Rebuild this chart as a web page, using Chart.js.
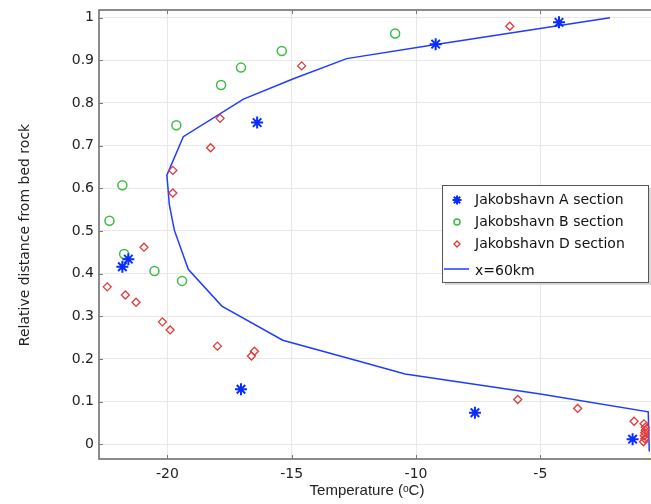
<!DOCTYPE html>
<html>
<head>
<meta charset="utf-8">
<script src="https://cdn.jsdelivr.net/npm/chart.js@4.4.1/dist/chart.umd.min.js"></script>
<style>
  body { margin: 0; background: #fff; }
  canvas { display: block; }
</style>
</head>
<body>
<canvas id="myChart" width="651" height="504"></canvas>
<script>
// model curve x=60km
const lineT = [-2.2, -9.2, -12.79, -14.93, -16.94, -19.36, -20.02, -19.92, -19.72, -19.16, -17.81, -15.36, -12.25, -10.44, -5.0, -0.66, -0.62];
const lineY = [1.0, 0.937, 0.904, 0.857, 0.809, 0.721, 0.631, 0.561, 0.502, 0.410, 0.324, 0.244, 0.194, 0.165, 0.118, 0.076, -0.017];

// Jakobshavn A
const aT = [-4.25, -9.21, -16.39, -21.81, -21.57, -17.04, -7.63, -1.29];
const aY = [0.989, 0.938, 0.754, 0.416, 0.434, 0.129, 0.074, 0.012];

// Jakobshavn B
const bT = [-10.84, -15.40, -17.04, -17.84, -19.64, -21.81, -22.33, -21.74, -20.52, -19.41];
const bY = [0.963, 0.922, 0.883, 0.842, 0.748, 0.607, 0.524, 0.446, 0.406, 0.383];

// Jakobshavn D
const dT = [-6.23, -14.60, -17.88, -18.26, -19.78, -19.78, -20.94, -22.42, -21.69, -21.26, -20.20, -19.89, -17.99, -16.62, -16.50, -5.91, -3.50, -1.23, -0.83, -0.78, -0.78, -0.80, -0.82, -0.80, -0.85];
const dY = [0.980, 0.887, 0.764, 0.695, 0.642, 0.589, 0.462, 0.369, 0.350, 0.333, 0.287, 0.268, 0.230, 0.207, 0.218, 0.105, 0.084, 0.054, 0.048, 0.040, 0.033, 0.027, 0.020, 0.013, 0.006];

const xTicks = [-20, -15, -10, -5];
const yTicks = [0, 0.1, 0.2, 0.3, 0.4, 0.5, 0.6, 0.7, 0.8, 0.9, 1];

const xTitle = 'Temperature (ᵒC)';
const yTitle = 'Relative distance from bed rock';

const pts = (xs, ys) => xs.map((x, i) => ({ x: x, y: ys[i] }));

const blue = '#1f3cff';
const starBlue = '#0a2dff';
const green = '#3dbb45';
const red = '#e03a3a';

// frame, inward ticks, x tick labels, axis titles and legend box
const extras = {
  id: 'extras',
  afterDraw(chart) {
    const ctx = chart.ctx;
    const a = chart.chartArea;
    const xs = chart.scales.x, ys = chart.scales.y;
    ctx.save();
    ctx.strokeStyle = '#666';
    ctx.lineWidth = 1.5;
    ctx.beginPath();
    ctx.moveTo(a.right + 2, a.top);
    ctx.lineTo(a.left, a.top);
    ctx.lineTo(a.left, a.bottom);
    ctx.lineTo(a.right + 2, a.bottom);
    ctx.stroke();

    ctx.strokeStyle = '#777';
    ctx.lineWidth = 1;
    ctx.beginPath();
    xTicks.forEach(t => {
      const px = Math.round(xs.getPixelForValue(t)) + 0.5;
      ctx.moveTo(px, a.bottom); ctx.lineTo(px, a.bottom - 4);
      ctx.moveTo(px, a.top); ctx.lineTo(px, a.top + 4);
    });
    yTicks.forEach(t => {
      const py = Math.round(ys.getPixelForValue(t)) + 0.5;
      ctx.moveTo(a.left, py); ctx.lineTo(a.left + 4, py);
    });
    ctx.stroke();

    // x tick labels
    ctx.fillStyle = '#222';
    ctx.font = '14px "DejaVu Sans", sans-serif';
    ctx.textAlign = 'center';
    ctx.textBaseline = 'middle';
    xTicks.forEach(t => {
      ctx.fillText(String(t), xs.getPixelForValue(t), a.bottom + 15);
    });

    // axis titles
    ctx.font = '15px "Liberation Sans", Arial, sans-serif';
    ctx.fillText(xTitle, 367, 491);
    ctx.save();
    ctx.translate(25, 235);
    ctx.rotate(-Math.PI / 2);
    ctx.font = '14px "DejaVu Sans", sans-serif';
    ctx.fillText(yTitle, 0, 0);
    ctx.restore();

    // legend
    const lx = 442, ly = 185, lw = 206, lh = 97;
    ctx.fillStyle = '#d8d8d8';
    ctx.fillRect(lx + 3, ly + 3, lw, lh);
    ctx.fillStyle = '#fff';
    ctx.fillRect(lx, ly, lw, lh);
    ctx.strokeStyle = '#555';
    ctx.lineWidth = 1;
    ctx.strokeRect(lx + 0.5, ly + 0.5, lw, lh);

    ctx.font = '14px "DejaVu Sans", sans-serif';
    ctx.textAlign = 'left';
    const rows = [200, 222, 244, 271];
    chart.data.datasets.forEach((ds, i) => {
      const ry = rows[i];
      if (ds.showLine) {
        ctx.strokeStyle = ds.borderColor;
        ctx.lineWidth = 1.5;
        ctx.beginPath();
        ctx.moveTo(444, ry - 2); ctx.lineTo(469, ry - 2);
        ctx.stroke();
      } else {
        ctx.fillStyle = '#fff';
        ctx.strokeStyle = ds.borderColor;
        ctx.lineWidth = ds.pointBorderWidth;
        Chart.helpers.drawPoint(ctx, {
          pointStyle: ds.pointStyle,
          radius: ds.pointStyle === 'star' ? 4.5 : 3,
          rotation: 0,
          borderWidth: ds.pointBorderWidth
        }, 457, ry);
      }
      ctx.fillStyle = '#111';
      ctx.fillText(ds.label, 475, ry);
    });
    ctx.restore();
  }
};

const keepTicks = list => scale => {
  scale.ticks = list.map(v => ({ value: v }));
};

let ctx = document.getElementById('myChart').getContext('2d');
let chart = new Chart(ctx, {
  type: 'scatter',
  data: {
    datasets: [{
      label: 'Jakobshavn A section',
      data: pts(aT, aY),
      pointStyle: 'star',
      pointRadius: 6,
      pointBorderWidth: 2,
      borderColor: starBlue,
      backgroundColor: starBlue,
      showLine: false
    },
    {
      label: 'Jakobshavn B section',
      data: pts(bT, bY),
      pointStyle: 'circle',
      pointRadius: 4.5,
      pointBorderWidth: 1.5,
      borderColor: green,
      backgroundColor: 'rgba(0,0,0,0)',
      showLine: false
    },
    {
      label: 'Jakobshavn D section',
      data: pts(dT, dY),
      pointStyle: 'rectRot',
      pointRadius: 4,
      pointBorderWidth: 1.3,
      borderColor: red,
      backgroundColor: 'rgba(0,0,0,0)',
      showLine: false
    },
    {
      label: 'x=60km',
      data: pts(lineT, lineY),
      showLine: true,
      pointRadius: 0,
      borderColor: blue,
      borderWidth: 1.5,
      tension: 0
    }]
  },
  options: {
    responsive: false,
    animation: false,
    events: [],
    layout: { autoPadding: false, padding: { top: 10, right: 0, left: 0, bottom: 0 } },
    plugins: {
      legend: { display: false },
      tooltip: { enabled: false }
    },
    scales: {
      x: {
        type: 'linear',
        min: -22.75,
        max: -0.55,
        afterBuildTicks: keepTicks(xTicks),
        afterFit: s => { s.height = 45; s.paddingLeft = 0; s.paddingRight = 0; },
        grid: { color: '#e8e8e8', drawTicks: false },
        border: { display: false },
        ticks: { display: false }
      },
      y: {
        type: 'linear',
        min: -0.0345,
        max: 1.018,
        afterBuildTicks: keepTicks(yTicks),
        afterFit: s => { s.width = 99; s.paddingTop = 0; s.paddingBottom = 0; },
        grid: { color: '#e8e8e8', drawTicks: false },
        border: { display: false },
        ticks: {
          padding: 5,
          color: '#222',
          font: { family: 'DejaVu Sans', size: 14 },
          callback: v => String(v)
        }
      }
    }
  },
  plugins: [extras]
});
</script>
</body>
</html>
